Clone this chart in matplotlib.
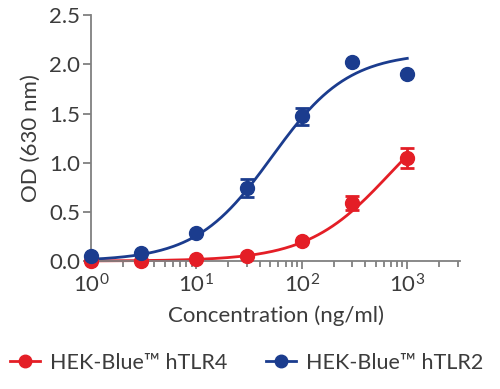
import numpy as np
import matplotlib
matplotlib.use("Agg")
import matplotlib.pyplot as plt
from matplotlib.ticker import LogLocator, NullFormatter

plt.rcParams['font.family'] = ['Lato', 'DejaVu Sans']
plt.rcParams['mathtext.default'] = 'regular'

# data
conc = [1, 3, 10, 30, 100, 300, 1000]
tlr4 = [0.0, 0.0, 0.02, 0.05, 0.20, 0.59, 1.05]
tlr4_err = [0, 0, 0, 0, 0, 0.07, 0.10]
tlr2 = [0.05, 0.08, 0.28, 0.74, 1.47, 2.02, 1.90]
tlr2_err = [0, 0, 0, 0.09, 0.09, 0, 0]

# 4PL fit parameters (top, ec50, hill)
fit_tlr4 = (1.8, 700, 1.1)
fit_tlr2 = (2.12, 52, 1.2)

red = '#e41e26'
blue = '#1b3c8e'
grey = '#808080'
txt = '#3c3c3c'

def logistic(x, top, ec50, h):
    return top / (1 + (ec50 / x) ** h)

fig = plt.figure(figsize=(5, 3.89), dpi=100)
ax = fig.add_axes([0.182, 0.329, 0.738, 0.632])

xs = np.logspace(0, 3, 200)
for y, err, fit, c in [(tlr4, tlr4_err, fit_tlr4, red), (tlr2, tlr2_err, fit_tlr2, blue)]:
    ax.plot(xs, logistic(xs, *fit), color=c, lw=2, clip_on=False, zorder=2)
    ax.errorbar(conc, y, yerr=err, fmt='o', color=c, ms=10, capsize=5,
                elinewidth=2, capthick=2, clip_on=False, zorder=3)

ax.set_xscale('log')
ax.set_xlim(1, 10 ** 3.5)
ax.set_ylim(0, 2.5)
ax.set_yticks([0, 0.5, 1.0, 1.5, 2.0, 2.5])
ax.set_yticklabels(['0.0', '0.5', '1.0', '1.5', '2.0', '2.5'])
ax.set_xticks([1, 10, 100, 1000])
ax.set_xticklabels(['$10^0$', '$10^1$', '$10^2$', '$10^3$'])
ax.xaxis.set_minor_locator(LogLocator(base=10, subs=np.arange(2, 10), numticks=10))
ax.xaxis.set_minor_formatter(NullFormatter())

for s in ['top', 'right']:
    ax.spines[s].set_visible(False)
for s in ['left', 'bottom']:
    ax.spines[s].set_color(grey)
    ax.spines[s].set_linewidth(1.3)
ax.tick_params(which='both', color=grey, width=1.3, labelsize=16, labelcolor=txt)
ax.tick_params(which='major', length=6)
ax.tick_params(which='minor', length=4)
ax.tick_params(axis='x', pad=3)
ax.tick_params(axis='y', pad=2)

ax.set_xlabel('Concentration (ng/ml)', fontsize=16, color=txt, labelpad=6)
ax.set_ylabel('OD (630 nm)', fontsize=16, color=txt, labelpad=6)

h1 = plt.Line2D([], [], color=red, marker='o', ms=9, lw=2)
h2 = plt.Line2D([], [], color=blue, marker='o', ms=9, lw=2)
fig.legend([h1, h2], ['HEK-Blue™ hTLR4', 'HEK-Blue™ hTLR2'], loc='center left',
           bbox_to_anchor=(0.02, 0.067), ncol=2, frameon=False, fontsize=15.5,
           handlelength=1.4, handletextpad=0.45, columnspacing=1.8,
           borderpad=0, borderaxespad=0, labelcolor=txt)

fig.savefig('out.png', dpi=100)
